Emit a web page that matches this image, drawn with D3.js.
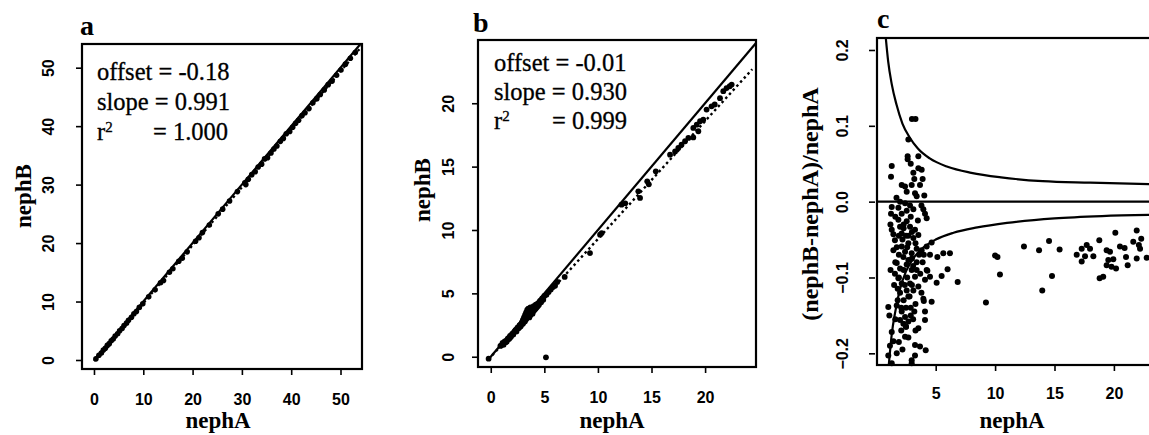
<!DOCTYPE html>
<html>
<head>
<meta charset="utf-8">
<script src="https://cdn.jsdelivr.net/npm/d3@7"></script>
<style>
  body { margin: 0; background: #fff; }
  svg text { fill: #000; }
  .tick text { font-family: "Liberation Sans", Arial, sans-serif; font-weight: bold; font-size: 16px; }
  .tick line { stroke: #000; stroke-width: 1.6px; }
  .serif { font-family: "Liberation Serif", "Times New Roman", serif; }
</style>
</head>
<body>
<svg id="chart" width="1149" height="435"></svg>
<script>
// ---- panel a : nephB vs nephA, full range
const aNephA = [0.4,1.0,1.5,1.9,2.3,2.7,3.1,3.5,3.9,4.3,4.8,5.2,5.7,6.1,6.6,7.0,7.6,8.1,8.6,9.2,9.9,11.1,12.4,13.5,14.1,15.3,16.0,17.2,17.9,18.9,20.6,21.3,22.0,23.4,25.2,26.1,27.5,29.1,30.6,30.8,31.3,32.0,32.7,33.3,34.0,34.6,35.2,35.9,36.5,37.1,37.8,38.4,39.0,39.7,40.3,40.9,41.5,42.2,42.8,43.6,44.4,45.2,45.9,46.7,47.5,48.3,49.2,50.1,51.0,52.0,53.0]
const aNephB = [0.2,0.8,1.2,1.7,2.0,2.5,2.8,3.3,3.6,4.1,4.5,5.0,5.4,5.9,6.3,6.8,7.3,7.9,8.3,9.0,9.6,10.8,12.0,13.2,13.6,15.0,15.6,16.9,17.4,18.5,20.3,20.9,21.8,23.1,25.0,25.8,27.2,28.8,30.3,30.0,30.9,31.7,32.2,33.0,33.5,34.4,34.6,35.4,36.1,36.6,37.4,37.9,38.7,39.1,39.8,40.5,41.0,41.8,42.3,43.0,44.0,44.7,45.4,46.2,47.1,47.7,48.7,49.6,50.6,51.6,52.6]
const aFit = { offset: -0.18, slope: 0.991 }
const aLabels = ['offset = -0.18', 'slope = 0.991', '= 1.000']
const aXTicks = [0, 10, 20, 30, 40, 50]
const aYTicks = [0, 10, 20, 30, 40, 50]

// ---- panel b : nephB vs nephA, low range
const bNephA = [-0.2,5.15,0.9,1.0,1.1,1.2,1.3,1.4,1.5,1.6,1.7,1.8,1.9,2.0,2.1,2.2,2.3,2.4,2.5,2.6,2.7,2.8,2.9,3.0,3.0,3.1,3.2,3.2,3.3,3.3,3.4,3.4,3.5,3.5,3.6,3.6,3.7,3.7,3.8,3.9,3.9,4.0,4.0,4.1,4.2,4.2,4.3,4.4,4.5,4.6,4.7,4.8,4.9,5.0,5.2,5.4,5.6,5.8,6.0,6.2,6.9,
  1.5,1.8,2.1,2.4,2.7,2.9,3.1,3.3,3.5,3.7,3.9,4.1,4.4,
  9.26,10.2,10.35,12.2,12.55,13.77,13.93,14.6,14.75,15.4,16.73,17.2,17.5,17.8,18.13,18.44,18.9,18.9,19.22,19.37,19.53,19.83,20.14,20.6,20.9,21.39,21.7,22.0,22.3,22.48]
const bNephB = [-0.15,-0.05,0.85,0.9,1.1,0.95,1.2,1.15,1.3,1.45,1.4,1.65,1.6,1.8,1.75,1.95,2.1,2.0,2.3,2.25,2.5,2.4,2.7,2.6,2.9,3.1,2.8,3.3,3.5,3.0,3.7,3.2,3.4,3.8,3.1,3.6,3.9,3.3,3.5,3.8,3.4,4.0,3.6,3.7,4.1,3.8,3.9,4.2,4.1,4.4,4.3,4.6,4.5,4.8,4.9,5.1,5.3,5.5,5.6,5.9,6.3,
  1.2,1.5,1.8,2.1,2.35,2.6,2.75,2.95,3.15,3.3,3.55,3.75,4.0,
  8.18,9.63,9.76,12.0,12.1,13.05,12.53,13.84,13.6,14.63,15.94,16.2,16.47,16.73,17.0,17.26,17.3,18.05,18.31,17.79,18.58,18.7,19.5,19.76,19.9,20.4,20.95,21.2,21.34,21.47]
const bFit = { offset: -0.01, slope: 0.930 }
const bLabels = ['offset = -0.01', 'slope = 0.930', '= 0.999']
const bXTicks = [0, 5, 10, 15, 20]
const bYTicks = [0, 5, 10, 15, 20]

// ---- panel c : relative difference
const cNephA = [4.52,5.14,5.64,6.2,6.0,5.5,5.08,6.85,4.3,4.66,4.0,9.23,10.0,10.2,10.41,12.43,13.7,14.54,15.43,14.79,13.97,16.87,17.29,17.71,17.99,17.57,17.29,18.27,18.77,19.39,19.67,19.53,19.95,19.39,19.8,20.18,19.1,18.8,20.12,20.51,20.9,21.02,21.16,21.63,21.92,22.1,22.2,21.92,22.76,22.3,
  3.0,3.3,2.7,2.64,2.64,3.54,1.3,1.24,3.12,3.54,3.82,2.14,2.42,2.98,3.68,2.56,3.26,4.04,3.4,2.42,1.3,1.86,2.84,3.12,2.56,3.96,4.1,4.24,2.14,1.19,1.3,1.44,1.86,2.0,2.14,2.56,2.84,3.26,3.54,3.12,2.7,1.57,1.72,1.44,2.14,2.42,2.28,2.7,2.98,3.4,3.82,4.24,4.66,1.72,2.0,1.57,1.86,2.14,2.56,2.98,3.26,2.84,2.56,3.12,3.54,2.7,4.24,4.52,4.1,3.96,1.01,1.72,2.14,2.42,2.7,2.28,2.0,4.1,4.1,3.54,1.3,1.44,2.42,2.7,1.01,1.72,3.26,2.98,2.98,4.16,1.3,3.26,3.68,
  1.6,1.9,2.3,2.5,2.9,3.0,3.3,3.6,3.9,4.0,1.9,2.3,2.6,3.0,3.4,3.7,2.0,2.3,2.9,3.3,2.5,1.8,1.6,1.5,3.8,3.1,2.5,2.1,1.9,2.2,1.6,3.5,3.8,2.0,1.7,3.2,2.9,3.9,1.2,1.1,1.15,1.24,
  2.2,2.6,3.0,3.4,2.4,2.8,3.2,1.8,2.1,2.5,2.9,3.3,2.3,2.7,3.1,1.9]
const cRatio = [-0.070,-0.073,-0.068,-0.068,-0.089,-0.098,-0.107,-0.106,-0.091,-0.132,-0.131,-0.133,-0.071,-0.073,-0.096,-0.059,-0.064,-0.052,-0.063,-0.098,-0.117,-0.070,-0.062,-0.057,-0.062,-0.072,-0.079,-0.072,-0.051,-0.064,-0.066,-0.077,-0.076,-0.084,-0.086,-0.088,-0.099,-0.101,-0.041,-0.059,-0.061,-0.073,-0.084,-0.053,-0.038,-0.057,-0.062,-0.075,-0.074,-0.049,
  0.109,0.109,0.082,0.060,0.056,0.060,0.047,0.033,0.038,0.044,0.042,0.022,0.020,0.022,0.022,0.013,0.011,0.008,0.007,-0.002,-0.007,-0.008,-0.005,-0.010,-0.012,-0.010,-0.016,-0.022,-0.016,-0.030,-0.037,-0.043,-0.024,-0.033,-0.042,-0.026,-0.033,-0.037,-0.044,-0.048,-0.055,-0.051,-0.060,-0.064,-0.059,-0.066,-0.073,-0.077,-0.068,-0.062,-0.064,-0.059,-0.054,-0.081,-0.088,-0.095,-0.101,-0.108,-0.083,-0.090,-0.099,-0.108,-0.117,-0.117,-0.112,-0.125,-0.090,-0.099,-0.103,-0.128,-0.139,-0.137,-0.145,-0.152,-0.158,-0.161,-0.156,-0.145,-0.156,-0.167,-0.172,-0.184,-0.178,-0.179,-0.203,-0.200,-0.203,-0.209,-0.213,-0.196,-0.213,-0.189,-0.191,
  -0.020,-0.045,-0.030,-0.045,-0.020,-0.040,-0.055,-0.070,-0.080,-0.070,-0.070,-0.090,-0.100,-0.110,-0.080,-0.095,-0.120,-0.130,-0.140,-0.135,-0.140,-0.115,-0.080,-0.110,-0.120,-0.155,-0.165,-0.170,-0.185,-0.195,-0.155,-0.025,-0.005,0.000,0.005,0.030,0.050,0.030,-0.090,-0.150,-0.190,-0.016,
  -0.050,-0.060,-0.075,-0.090,-0.110,-0.125,-0.145,-0.130,-0.140,-0.165,-0.150,-0.170,-0.035,-0.045,-0.085,-0.100]
// envelope curves
const cUpper = [[0.8,0.216],[1.0,0.185],[1.3,0.155],[1.7,0.128],[2.2,0.103],[2.8,0.085],[3.5,0.07],[4.5,0.057],[6,0.046],[8,0.038],[10.5,0.032],[14,0.027],[18,0.025],[23,0.023]]
const cLower = [[1.05,-0.216],[1.3,-0.175],[1.6,-0.145],[2.0,-0.115],[2.5,-0.092],[3.2,-0.073],[4.0,-0.06],[5,-0.05],[6.5,-0.041],[8.5,-0.034],[11,-0.028],[15,-0.022],[19,-0.019],[23,-0.0175]]
const cXTicks = [5, 10, 15, 20]
const cYTicks = [-0.2, -0.1, 0, 0.1, 0.2]

const svg = d3.select('#chart')

function makePanel (p) {
  const x = d3.scaleLinear().domain(p.xDom).range([p.left, p.right])
  const y = d3.scaleLinear().domain(p.yDom).range([p.bottom, p.top])
  const g = svg.append('g')
  g.append('clipPath').attr('id', 'clip-' + p.id)
    .append('rect')
    .attr('x', p.left).attr('y', p.top)
    .attr('width', p.right - p.left).attr('height', p.bottom - p.top)

  const xa = g.append('g')
    .attr('transform', `translate(0,${p.bottom})`)
    .call(d3.axisBottom(x).tickValues(p.xTicks).tickSize(6).tickPadding(p.xPad).tickFormat(d3.format('d')))
  xa.select('.domain').remove()

  const ya = g.append('g')
    .attr('transform', `translate(${p.yAxisAt},0)`)
    .call(d3.axisLeft(y).tickValues(p.yTicks).tickSize(6).tickFormat(p.yFmt))
  ya.select('.domain').remove()
  ya.selectAll('.tick text')
    .attr('x', 0).attr('y', -p.yPad).attr('dy', 0)
    .attr('text-anchor', 'middle')
    .attr('transform', 'rotate(-90)')

  g.append('text').attr('class', 'serif')
    .attr('x', p.letter[0]).attr('y', p.letter[1])
    .style('font-size', '28px').style('font-weight', 'bold')
    .text(p.id)

  g.append('text').attr('class', 'serif')
    .attr('x', p.xTitle[0]).attr('y', p.xTitle[1])
    .attr('text-anchor', 'middle')
    .style('font-size', '23px').style('font-weight', 'bold')
    .text('nephA')

  g.append('text').attr('class', 'serif')
    .attr('transform', `translate(${p.yTitle[0]},${p.yTitle[1]}) rotate(-90)`)
    .attr('text-anchor', 'middle')
    .style('font-size', p.yTitleSize).style('font-weight', 'bold')
    .text(p.yTitleText)

  return { g, x, y }
}

function drawBox (g, p) {
  g.append('rect')
    .attr('x', p.left).attr('y', p.top)
    .attr('width', p.right - p.left).attr('height', p.bottom - p.top)
    .attr('fill', 'none').attr('stroke', '#000').attr('stroke-width', 2.2)
}

function drawStats (g, labels, x0, x1, y0, step) {
  const t = g.append('g').attr('class', 'serif').style('font-size', '24.5px')
    .attr('stroke', '#000').attr('stroke-width', 0.3)
  t.append('text').attr('x', x0).attr('y', y0).text(labels[0])
  t.append('text').attr('x', x0).attr('y', y0 + step).text(labels[1])
  const r = t.append('text').attr('x', x0).attr('y', y0 + 2 * step)
  r.append('tspan').text('r')
  r.append('tspan').attr('dy', -8).style('font-size', '15px').text('2')
  r.append('tspan').attr('x', x1).attr('dy', 8).text(labels[2])
}

function scatterXY (panel, id, xs, ys, fit, labels, stats) {
  const { g, x, y } = makePanel(panel)
  const lines = g.append('g').attr('clip-path', `url(#clip-${id})`)
  const d0 = panel.lineFrom, d1 = panel.xDom[1] + 1
  lines.append('line')
    .attr('x1', x(d0)).attr('y1', y(d0)).attr('x2', x(d1)).attr('y2', y(d1))
    .attr('stroke', '#000').attr('stroke-width', 2.2)
  lines.append('line')
    .attr('x1', x(d0)).attr('y1', y(fit.offset + fit.slope * d0))
    .attr('x2', x(panel.fitTo)).attr('y2', y(fit.offset + fit.slope * panel.fitTo))
    .attr('stroke', '#000').attr('stroke-width', 2.4).attr('stroke-dasharray', '2.5,3')
  g.append('g').selectAll('circle')
    .data(xs.map((v, i) => [v, ys[i]]))
    .join('circle')
    .attr('cx', d => x(d[0])).attr('cy', d => y(d[1]))
    .attr('r', panel.r).attr('fill', '#000')
  drawStats(g, labels, stats[0], stats[1], stats[2], stats[3])
  drawBox(g, panel)
}

scatterXY({
  id: 'a', left: 82, right: 362, top: 44, bottom: 369,
  xDom: [-2.43, 54.36], yDom: [-1.54, 54.05],
  xTicks: aXTicks, yTicks: aYTicks, xPad: 19, yAxisAt: 82, yPad: 28, yFmt: d3.format('d'),
  letter: [80, 35], xTitle: [218, 428], yTitle: [31, 196], yTitleSize: '23px', yTitleText: 'nephB',
  lineFrom: 0, fitTo: 54.4, r: 2.8
}, 'a', aNephA, aNephB, aFit, aLabels, [97, 153, 80, 30])

scatterXY({
  id: 'b', left: 478, right: 756, top: 40, bottom: 367,
  xDom: [-1.19, 24.75], yDom: [-0.81, 24.99],
  xTicks: bXTicks, yTicks: bYTicks, xPad: 19, yAxisAt: 478, yPad: 24, yFmt: d3.format('d'),
  letter: [473, 32], xTitle: [612, 428], yTitle: [430, 190], yTitleSize: '23px', yTitleText: 'nephB',
  lineFrom: -0.2, fitTo: 24.4, r: 2.9
}, 'b', bNephA, bNephB, bFit, bLabels, [494, 552, 71, 29])

// panel c
const pc = {
  id: 'c', left: 877, right: 1160, top: 38, bottom: 365,
  xDom: [0.06, 23.88], yDom: [-0.2154, 0.2158],
  xTicks: cXTicks, yTicks: cYTicks, xPad: 17, yAxisAt: 875, yPad: 27, yFmt: d3.format('.1f'),
  letter: [877, 28], xTitle: [1012, 428], yTitle: [818, 204], yTitleSize: '24px', yTitleText: '(nephB-nephA)/nephA'
}
const c = makePanel(pc)
const cl = c.g.append('g').attr('clip-path', 'url(#clip-c)')
const curve = d3.line().x(d => c.x(d[0])).y(d => c.y(d[1])).curve(d3.curveMonotoneX)
cl.append('path').attr('d', curve(cUpper)).attr('fill', 'none').attr('stroke', '#000').attr('stroke-width', 2.2)
cl.append('path').attr('d', curve(cLower)).attr('fill', 'none').attr('stroke', '#000').attr('stroke-width', 2.2)
cl.append('line')
  .attr('x1', c.x(0.06)).attr('x2', c.x(23.88)).attr('y1', c.y(0)).attr('y2', c.y(0))
  .attr('stroke', '#000').attr('stroke-width', 2.2)
c.g.append('g').selectAll('circle')
  .data(cNephA.map((v, i) => [v, cRatio[i]]))
  .join('circle')
  .attr('cx', d => c.x(d[0])).attr('cy', d => c.y(d[1]))
  .attr('r', 3).attr('fill', '#000')
drawBox(c.g, pc)
</script>
</body>
</html>
